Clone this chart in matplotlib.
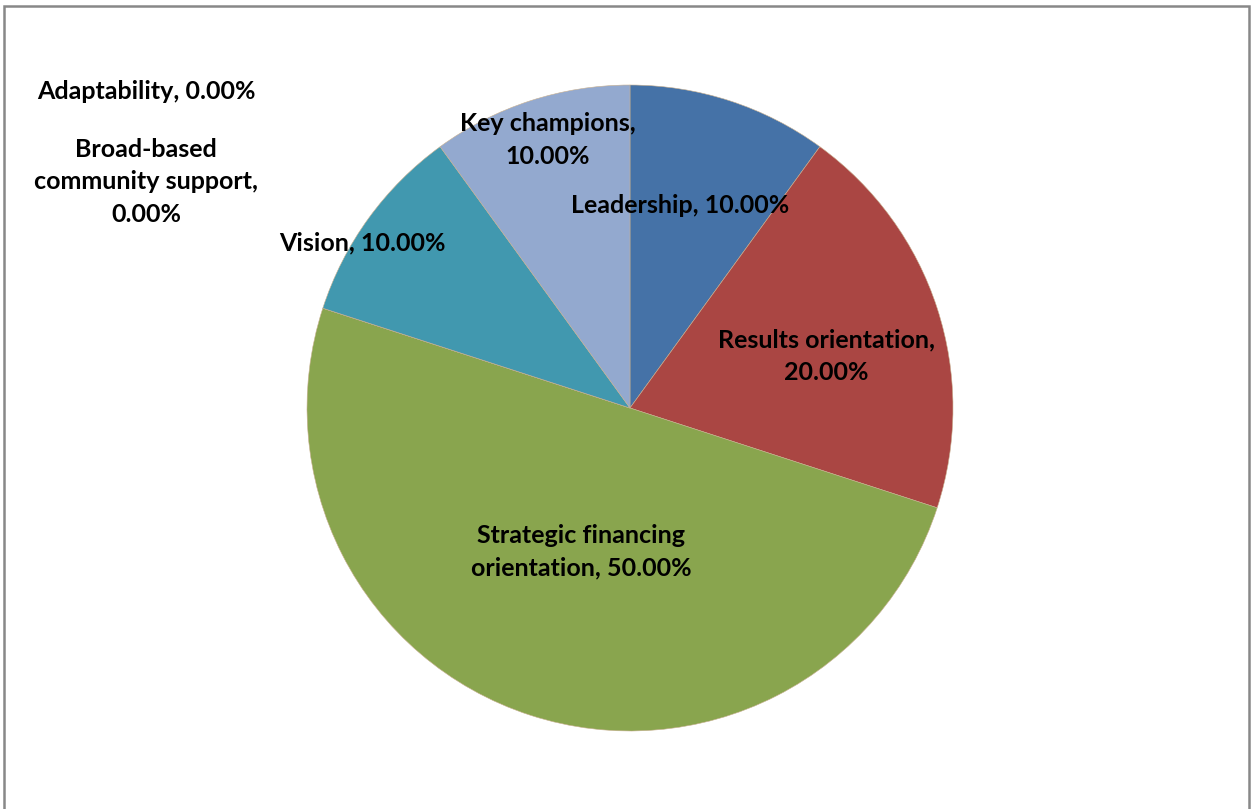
import matplotlib.pyplot as plt
from matplotlib.patches import Rectangle

# slices, clockwise from 12 o'clock
labels = ['Leadership', 'Results orientation', 'Strategic financing orientation',
          'Adaptability', 'Broad-based community support', 'Vision', 'Key champions']
values = [10.0, 20.0, 50.0, 0.0, 0.0, 10.0, 10.0]
colors = ['#4572A7', '#AA4643', '#89A54E', '#DB843D', '#80699B', '#4198AF', '#93A9CF']

# label text as shown on the chart, with positions in pie-radius units
label_text = ['Leadership, 10.00%',
              'Results orientation,\n20.00%',
              'Strategic financing\norientation, 50.00%',
              'Adaptability, 0.00%',
              'Broad-based\ncommunity support,\n0.00%',
              'Vision, 10.00%',
              'Key champions,\n10.00%']
label_pos = [(0.155, 0.628), (0.607, 0.161), (-0.152, -0.446), (-1.498, 0.981),
             (-1.498, 0.70), (-0.827, 0.511), (-0.254, 0.83)]

W, H = 1253, 809
cx, cy, R = 630, 408, 323

fig = plt.figure(figsize=(W / 100, H / 100), dpi=100)
ax = fig.add_axes([0, 0, 1, 1])
ax.pie(values, colors=colors, startangle=90, counterclock=False, radius=1,
       wedgeprops=dict(linewidth=0.4, edgecolor='#c8b090'))
ax.set_xlim(-cx / R, (W - cx) / R)
ax.set_ylim(-(H - cy) / R, cy / R)
ax.set_aspect('auto')
ax.axis('off')

for txt, (x, y) in zip(label_text, label_pos):
    ax.text(x, y, txt, ha='center', va='center', fontsize=18, fontweight='bold',
            family=['Lato', 'DejaVu Sans'], linespacing=1.5, color='black')

# chart frame
fig.add_artist(Rectangle((3.5 / W, -0.02), (1249 - 3.5) / W, 1.02 - 6 / H,
                         transform=fig.transFigure, fill=False,
                         edgecolor='#888888', linewidth=1.8))

fig.savefig('out.png', dpi=100, facecolor='white')
